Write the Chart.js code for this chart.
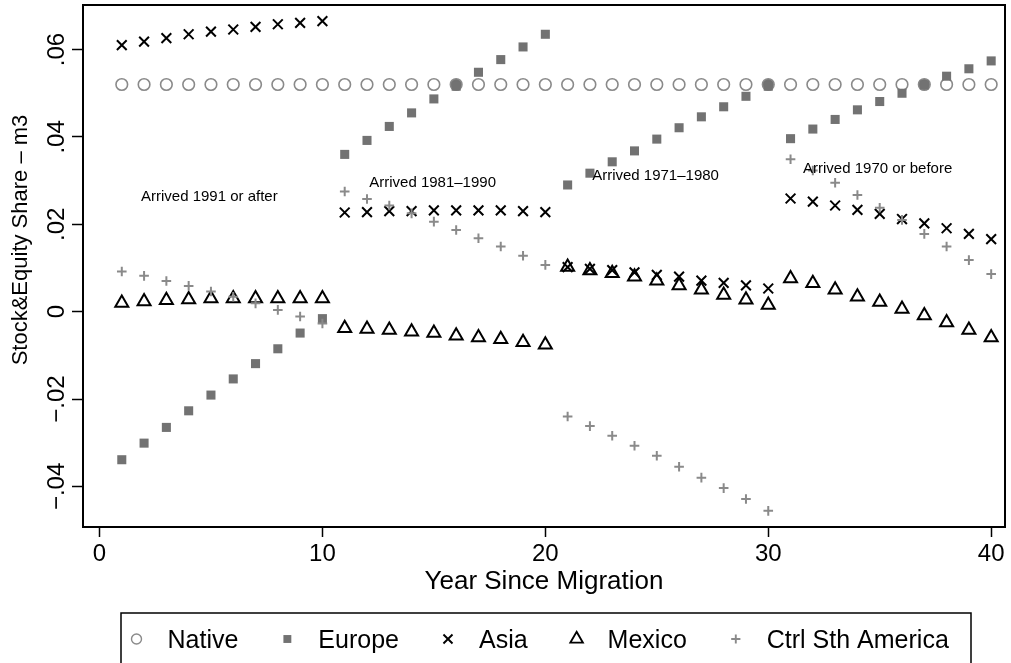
<!DOCTYPE html>
<html>
<head>
<meta charset="utf-8">
<title>Stock & Equity Share by Year Since Migration</title>
<script src="https://cdn.jsdelivr.net/npm/chart.js@4.4.1/dist/chart.umd.min.js"></script>
<style>
  html, body { margin: 0; padding: 0; background: #fff; }
  #wrap { width: 1011px; height: 663px; position: relative; }
</style>
</head>
<body>
<div id="wrap"><canvas id="chart"></canvas></div>
<script>
// Years since migration (x positions of every series)
const years = [1,2,3,4,5,6,7,8,9,10,11,12,13,14,15,16,17,18,19,20,
               21,22,23,24,25,26,27,28,29,30,31,32,33,34,35,36,37,38,39,40];

// Stock & equity share by origin group
const native = [0.052,0.052,0.052,0.052,0.052,0.052,0.052,0.052,0.052,0.052,
                0.052,0.052,0.052,0.052,0.052,0.052,0.052,0.052,0.052,0.052,
                0.052,0.052,0.052,0.052,0.052,0.052,0.052,0.052,0.052,0.052,
                0.052,0.052,0.052,0.052,0.052,0.052,0.052,0.052,0.052,0.052];

const europe = [-0.0339,-0.0301,-0.0265,-0.0227,-0.0191,-0.0154,-0.0119,-0.0085,-0.0049,-0.0016,
                0.0360,0.0392,0.0424,0.0455,0.0487,0.0516,0.0548,0.0577,0.0606,0.0635,
                0.0290,0.0317,0.0343,0.0368,0.0395,0.0421,0.0446,0.0469,0.0493,0.0516,
                0.0396,0.0418,0.0440,0.0462,0.0481,0.0500,0.0519,0.0539,0.0556,0.0574];

const asia = [0.0610,0.0618,0.0626,0.0635,0.0641,0.0646,0.0652,0.0658,0.0661,0.0665,
              0.0227,0.0228,0.0230,0.0230,0.0232,0.0232,0.0232,0.0232,0.0230,0.0228,
              0.0102,0.0098,0.0095,0.0090,0.0084,0.0080,0.0071,0.0066,0.0060,0.0053,
              0.0259,0.0252,0.0243,0.0233,0.0224,0.0212,0.0202,0.0191,0.0178,0.0166];

const mexico = [0.0020,0.0023,0.0026,0.0028,0.0030,0.0030,0.0030,0.0030,0.0030,0.0030,
                -0.0038,-0.0040,-0.0042,-0.0046,-0.0049,-0.0055,-0.0059,-0.0063,-0.0070,-0.0076,
                0.0102,0.0094,0.0088,0.0080,0.0071,0.0060,0.0050,0.0038,0.0027,0.0015,
                0.0076,0.0065,0.0050,0.0034,0.0022,0.0006,-0.0009,-0.0025,-0.0042,-0.0059];

const ctrlSthAmerica = [0.0092,0.0082,0.0070,0.0059,0.0046,0.0034,0.0019,0.0004,-0.0011,-0.0027,
                        0.0275,0.0258,0.0243,0.0225,0.0206,0.0187,0.0168,0.0149,0.0128,0.0107,
                        -0.0240,-0.0262,-0.0284,-0.0307,-0.0330,-0.0355,-0.0380,-0.0404,-0.0429,-0.0456,
                        0.0349,0.0323,0.0295,0.0267,0.0238,0.0210,0.0178,0.0149,0.0118,0.0086];

const seriesNames = ['Native', 'Europe', 'Asia', 'Mexico', 'Ctrl Sth America'];

// Axis ticks
const xTickValues = [0, 10, 20, 30, 40];
const yTickValues = [-0.04, -0.02, 0, 0.02, 0.04, 0.06];
const yTickLabels = ['\u2212.04', '\u2212.02', '0', '.02', '.04', '.06'];

// Arrival-cohort notes, placed in data coordinates
const cohortLabels = ['Arrived 1991 or after', 'Arrived 1981\u20131990', 'Arrived 1971\u20131980', 'Arrived 1970 or before'];
const cohortLabelX = [1.86, 12.1, 22.1, 31.56];
const cohortLabelY = [0.0263, 0.0295, 0.0311, 0.0327];

const FONT = '"Liberation Sans", Arial, Helvetica, sans-serif';
const GREY = '#8a8a8a';
const DARK_GREY = '#727272';

const toPoints = vals => vals.map((v, i) => ({ x: years[i], y: v }));

// Marker look of each series (used for plot and legend)
const markers = [
  { pointStyle: 'circle',   radius: 5.8, borderWidth: 1.6, borderColor: GREY,      backgroundColor: 'rgba(0,0,0,0)' },
  { pointStyle: 'rect',     radius: 6.4, borderWidth: 0,   borderColor: DARK_GREY, backgroundColor: DARK_GREY },
  { pointStyle: 'crossRot', radius: 6.9, borderWidth: 2,   borderColor: '#000',    backgroundColor: 'rgba(0,0,0,0)' },
  { pointStyle: 'triangle', radius: 7.5, borderWidth: 2,   borderColor: '#000',    backgroundColor: 'rgba(0,0,0,0)' },
  { pointStyle: 'cross',    radius: 4.8, borderWidth: 2,   borderColor: GREY,      backgroundColor: 'rgba(0,0,0,0)' }
];
const legendMarkers = [
  { pointStyle: 'circle',   radius: 5,   borderWidth: 1.4, borderColor: GREY,      backgroundColor: 'rgba(0,0,0,0)' },
  { pointStyle: 'rect',     radius: 5.6, borderWidth: 0,   borderColor: DARK_GREY, backgroundColor: DARK_GREY },
  { pointStyle: 'crossRot', radius: 6.4, borderWidth: 1.9, borderColor: '#000',    backgroundColor: 'rgba(0,0,0,0)' },
  { pointStyle: 'triangle', radius: 7.2, borderWidth: 1.9, borderColor: '#000',    backgroundColor: 'rgba(0,0,0,0)' },
  { pointStyle: 'cross',    radius: 4.6, borderWidth: 1.9, borderColor: GREY,      backgroundColor: 'rgba(0,0,0,0)' }
];

const seriesValues = [native, europe, asia, mexico, ctrlSthAmerica];

function makeDataset(i) {
  const m = markers[i];
  return {
    label: seriesNames[i],
    data: toPoints(seriesValues[i]),
    showLine: false,
    pointStyle: m.pointStyle,
    pointRadius: m.radius,
    pointBorderWidth: m.borderWidth,
    pointBorderColor: m.borderColor,
    pointBackgroundColor: m.backgroundColor,
    order: 5 - i
  };
}

const datasets = seriesNames.map((_, i) => makeDataset(i));
// Native markers that coincide with a European value are shown filled
datasets[0].pointBackgroundColor = ctx => {
  const i = ctx.dataIndex;
  return Math.abs(europe[i] - native[i]) < 0.001 ? DARK_GREY : 'rgba(0,0,0,0)';
};

function drawMarker(ctx, m, x, y) {
  ctx.save();
  ctx.strokeStyle = m.borderColor;
  ctx.fillStyle = m.backgroundColor;
  ctx.lineWidth = m.borderWidth;
  Chart.helpers.drawPoint(ctx, { pointStyle: m.pointStyle, radius: m.radius, rotation: 0, borderWidth: m.borderWidth }, x, y);
  ctx.restore();
}

const decorations = {
  id: 'decorations',
  afterDatasetsDraw(chart) {
    const ctx = chart.ctx;
    const xs = chart.scales.x, ys = chart.scales.y;
    ctx.save();
    ctx.font = '15px ' + FONT;
    ctx.fillStyle = '#000';
    ctx.textAlign = 'left';
    ctx.textBaseline = 'middle';
    cohortLabels.forEach((t, i) => {
      ctx.fillText(t, xs.getPixelForValue(cohortLabelX[i]), ys.getPixelForValue(cohortLabelY[i]));
    });
    ctx.restore();
  },
  afterDraw(chart) {
    const ctx = chart.ctx;
    const a = chart.chartArea;
    ctx.save();
    // plot frame
    ctx.strokeStyle = '#000';
    ctx.lineWidth = 2;
    ctx.strokeRect(a.left, a.top, a.right - a.left, a.bottom - a.top);

    // y axis title
    ctx.save();
    ctx.translate(21, 240);
    ctx.rotate(-Math.PI / 2);
    ctx.font = '22px ' + FONT;
    ctx.fillStyle = '#000';
    ctx.textAlign = 'center';
    ctx.textBaseline = 'middle';
    ctx.fillText('Stock&Equity Share \u2013 m3', 0, 0);
    ctx.restore();

    // legend box
    ctx.lineWidth = 1.5;
    ctx.strokeStyle = '#000';
    ctx.strokeRect(121, 613, 850, 70);
    ctx.font = '25px ' + FONT;
    ctx.fillStyle = '#000';
    ctx.textAlign = 'left';
    ctx.textBaseline = 'alphabetic';
    let x = 136.5;
    const markerY = 639, textY = 648;
    seriesNames.forEach((name, i) => {
      drawMarker(ctx, legendMarkers[i], x, markerY);
      const tx = x + 31;
      ctx.fillStyle = '#000';
      ctx.fillText(name, tx, textY);
      x = tx + ctx.measureText(name).width + 49;
    });
    ctx.restore();
  }
};

new Chart(document.getElementById('chart'), {
  type: 'scatter',
  data: { datasets },
  plugins: [decorations],
  options: {
    responsive: true,
    maintainAspectRatio: false,
    devicePixelRatio: 1,
    animation: false,
    events: [],
    layout: { autoPadding: false, padding: { top: 5, right: 6, left: 0, bottom: 66 } },
    plugins: { legend: { display: false }, tooltip: { enabled: false } },
    scales: {
      x: {
        type: 'linear',
        min: -0.74,
        max: 40.62,
        afterBuildTicks: axis => { axis.ticks = xTickValues.map(v => ({ value: v })); },
        afterFit: scale => { scale.height = 70; scale.paddingLeft = 0; scale.paddingRight = 0; },
        border: { display: false },
        grid: { drawOnChartArea: false, drawTicks: true, tickLength: 10, tickColor: '#000', tickWidth: 1.5 },
        ticks: { autoSkip: false, maxRotation: 0, padding: 3, color: '#000', font: { family: FONT, size: 24 } },
        title: { display: true, text: 'Year Since Migration', color: '#000', padding: 0, font: { family: FONT, size: 26 } }
      },
      y: {
        type: 'linear',
        min: -0.0493,
        max: 0.0702,
        afterBuildTicks: axis => { axis.ticks = yTickValues.map(v => ({ value: v })); },
        afterFit: scale => { scale.width = 83; scale.paddingTop = 0; scale.paddingBottom = 0; },
        border: { display: false },
        grid: { drawOnChartArea: false, drawTicks: true, tickLength: 11, tickColor: '#000', tickWidth: 1.5 },
        ticks: {
          autoSkip: false,
          minRotation: 90,
          maxRotation: 90,
          crossAlign: 'center',
          padding: -9,
          color: '#000',
          font: { family: FONT, size: 24 },
          callback: v => {
            const i = yTickValues.findIndex(t => Math.abs(t - v) < 1e-9);
            return i >= 0 ? yTickLabels[i] : '';
          }
        },
        title: { display: false }
      }
    }
  }
});
</script>
</body>
</html>
